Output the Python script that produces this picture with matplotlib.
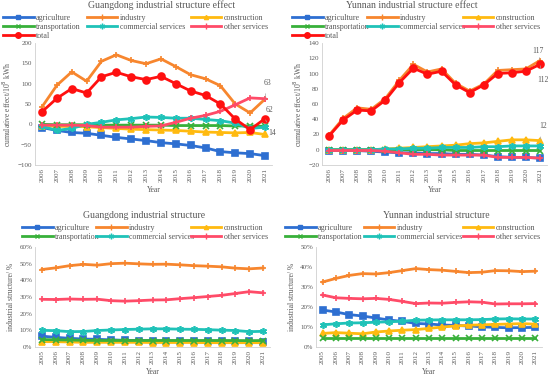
import matplotlib
matplotlib.use("Agg")
import matplotlib.pyplot as plt
from matplotlib.lines import Line2D

plt.rcParams['font.family'] = ['Liberation Serif', 'DejaVu Serif']
TXT = '#595959'

years_eff = list(range(2006, 2022))
years_str = list(range(2005, 2022))

# Guangdong industrial structure effect (10^8 kWh)
gd_agri = [-8, -15, -20, -22, -27, -32, -36, -40, -45, -48, -52, -58, -67, -70, -72, -77]
gd_ind = [43, 96, 129, 106, 155, 171, 157, 149, 161, 142, 122, 112, 95, 50, 28, 62]
gd_cons = [-3, -5, -5, -6, -8, -10, -12, -13, -14, -15, -17, -19, -20, -21, -20, -25]
gd_trans = [0, -1, -1, -1, -2, -2, -2, -2, -2, -3, -3, -3, -3, -4, -4, -5]
gd_comm = [-5, -15, -10, 0, 5, 11, 14, 18, 17, 15, 15, 12, 9, 3, -10, -7]
gd_other = [-2, -2, -2, -3, -7, -7, -7, -5, -4, 5, 15, 22, 32, 48, 65, 63]
gd_total = [31, 64, 88, 77, 117, 128, 117, 110, 118, 100, 82, 71, 50, 13, -13, 14]

# Yunnan industrial structure effect
yn_agri = [-1, -1, -1, -2, -3, -4, -4, -5, -5, -6, -6, -7, -9, -10, -10, -11]
yn_ind = [19, 41, 55, 53, 67, 91, 112, 102, 106, 87, 77, 86, 104, 105, 106, 117]
yn_cons = [0, 0, 0, 0, 1, 2, 3, 4, 5, 6, 8, 9, 11, 13, 13, 12]
yn_trans = [0, 0, 0, 0, 0, 0, 0, 0, 0, -1, -1, -1, -1, -1, -1, -1]
yn_comm = [0, 0, 0, 0, 1, 1, 2, 2, 3, 3, 3, 4, 4, 5, 5, 5]
yn_other = [-1, -1, -1, -1, -2, -4, -6, -6, -7, -7, -7, -7, -10, -10, -10, -11]
yn_total = [18, 39, 52, 51, 65, 88, 107, 99, 103, 85, 75, 85, 100, 101, 103, 112]

# Guangdong industrial structure (%)
gs_agri = [6.5, 5.8, 5.2, 4.8, 4.6, 4.3, 4.0, 3.9, 3.8, 3.7, 3.6, 3.6, 3.5, 3.5, 3.4, 3.4, 3.3]
gs_ind = [46.5, 47.5, 48.8, 49.6, 49.1, 50.0, 50.3, 49.9, 49.6, 49.7, 49.3, 48.8, 48.5, 48.1, 47.3, 46.9, 47.4]
gs_cons = [3.2, 3.2, 3.0, 2.8, 2.8, 2.8, 2.8, 2.8, 2.7, 2.7, 2.7, 2.7, 2.6, 2.6, 2.6, 2.6, 2.6]
gs_trans = [4.5, 4.3, 4.2, 4.0, 3.9, 3.9, 3.9, 3.9, 3.9, 3.9, 3.9, 3.9, 3.9, 3.9, 3.9, 3.8, 3.9]
gs_comm = [10.0, 9.8, 9.2, 9.3, 9.9, 10.2, 10.5, 10.7, 10.9, 10.9, 10.7, 10.6, 10.4, 10.1, 9.9, 9.2, 9.4]
gs_other = [28.6, 28.5, 28.8, 28.6, 28.7, 27.8, 27.5, 27.8, 28.2, 28.3, 29.0, 29.6, 30.3, 31.0, 32.1, 33.2, 32.5]

# Yunnan industrial structure (%)
ys_agri = [18.5, 17.5, 16.2, 15.5, 14.5, 13.5, 12.8, 11.8, 11.5, 11.0, 10.8, 10.5, 10.1, 9.8, 9.6, 9.7, 9.8]
ys_ind = [32.5, 34.3, 35.8, 36.7, 36.5, 37.2, 38.2, 39.2, 38.7, 38.4, 37.8, 37.2, 37.4, 38.2, 38.1, 37.7, 37.9]
ys_cons = [6.8, 7.2, 6.9, 6.6, 7.5, 8.0, 8.4, 8.7, 9.3, 10.0, 10.5, 10.9, 11.1, 11.3, 11.5, 11.7, 11.4]
ys_trans = [4.5, 4.5, 4.5, 4.5, 4.5, 4.5, 4.5, 4.5, 4.5, 4.5, 4.5, 4.5, 4.5, 4.5, 4.5, 4.5, 4.5]
ys_comm = [11.1, 11.6, 12.0, 12.1, 12.4, 12.6, 12.9, 13.4, 13.5, 13.6, 13.6, 13.6, 13.7, 14.0, 14.1, 14.0, 14.0]
ys_other = [26.0, 24.6, 24.3, 24.1, 24.3, 23.8, 22.8, 21.7, 22.0, 21.9, 22.3, 22.6, 22.4, 21.5, 21.6, 21.6, 21.7]

names = ['agriculture', 'industry', 'construction', 'transportation',
         'commercial services', 'other services', 'total']
colors = ['#2E6FD1', '#F7862E', '#FFBA10', '#38B03A', '#1FC2B8', '#FF4B68', '#FF1010']
markers = ['s', '+', '^', 'x', (6, 2, 0), '+', 'o']
msizes = [4, 5, 4, 4, 5, 5, 5]

fig = plt.figure(figsize=(5.5, 3.81), dpi=100)

W, H = 550.0, 381.0


def box(l, r, t, b):
    return [l / W, 1 - b / H, (r - l) / W, (b - t) / H]


def style(ax, ylabel):
    for s in ['top', 'right']:
        ax.spines[s].set_visible(False)
    for s in ['left', 'bottom']:
        ax.spines[s].set_color('#D0D0D0')
        ax.spines[s].set_linewidth(0.6)
    ax.tick_params(axis='both', colors='#BFBFBF', labelcolor=TXT, labelsize=5, length=0, pad=2)
    ax.tick_params(axis='x', rotation=90)
    ax.set_ylabel(ylabel, fontsize=5.5, color=TXT, labelpad=3)
    ax.set_xlabel('Year', fontsize=5.5, color=TXT, labelpad=3)


def draw(ax, years, series, n):
    for i in range(n):
        ax.plot(years, series[i], color=colors[i], lw=2.0, marker=markers[i],
                ms=msizes[i], mew=1.2, mec=colors[i], mfc=colors[i])
    ax.set_xlim(years[0] - 0.5, years[-1] + 0.5)
    ax.set_xticks(years)
    ax.set_xticklabels([str(y) for y in years])


def legend(ax, n, x0, x1, y_top, title, title_y, title_x):
    handles = [Line2D([], [], color=colors[i], lw=2.0, marker=markers[i], ms=msizes[i] - 1,
                      mew=1.0, mfc=colors[i], mec=colors[i]) for i in range(n)]
    if n == 7:
        order = [0, 3, 6, 1, 4, 2, 5]
    else:
        order = [0, 3, 1, 4, 2, 5]
    fig.legend([handles[i] for i in order], [names[i] for i in order],
               loc='upper left', bbox_to_anchor=(x0 / W, 1 - y_top / H, (x1 - x0) / W, 0.0),
               mode='expand', ncol=3, frameon=False, fontsize=5.8, handlelength=3.8,
               handletextpad=0.3, labelspacing=0.12, borderaxespad=0, borderpad=0,
               labelcolor=TXT, markerscale=1.0)
    fig.text(title_x / W, 1 - title_y / H, title, ha='center', va='center',
             fontsize=7, color=TXT)


ann = dict(fontsize=5.5, color=TXT, textcoords='offset points', ha='center', va='center',
           arrowprops=dict(arrowstyle='-', color='#A6A6A6', lw=0.5, shrinkA=3, shrinkB=1))

# Top-left: Guangdong effect
ax1 = fig.add_axes(box(34.6, 272.4, 43, 165))
draw(ax1, years_eff, [gd_agri, gd_ind, gd_cons, gd_trans, gd_comm, gd_other, gd_total], 7)
ax1.set_ylim(-100, 200)
ax1.set_yticks(range(-100, 201, 50))
style(ax1, 'cumulative effect/10$^8$ kWh')
legend(ax1, 7, 3, 268, 14, 'Guangdong industrial structure effect', 5, 162)
ax1.annotate('63', xy=(2021, gd_other[-1]), xytext=(1.5, 11.5), **ann)
ax1.annotate('62', xy=(2021, gd_ind[-1]), xytext=(3, -8), **ann)
ax1.annotate('14', xy=(2021, gd_total[-1]), xytext=(5, -10), **ann)

# Top-right: Yunnan effect
ax2 = fig.add_axes(box(322, 547, 43, 165))
draw(ax2, years_eff, [yn_agri, yn_ind, yn_cons, yn_trans, yn_comm, yn_other, yn_total], 7)
ax2.set_ylim(-20, 140)
ax2.set_yticks(range(-20, 141, 20))
style(ax2, 'cumulative effect/10$^8$ kWh')
legend(ax2, 7, 292, 540, 14, 'Yunnan industrial structure effect', 5, 412)
ax2.annotate('117', xy=(2021, yn_ind[-1]), xytext=(-1.5, 7), **ann)
ax2.annotate('112', xy=(2021, yn_total[-1]), xytext=(2, -11), **ann)
ax2.annotate('12', xy=(2021, yn_cons[-1]), xytext=(2, 10.5), **ann)

# Bottom-left: Guangdong structure
ax3 = fig.add_axes(box(35.1, 269.9, 247, 347))
draw(ax3, years_str, [gs_agri, gs_ind, gs_cons, gs_trans, gs_comm, gs_other], 6)
ax3.set_ylim(0, 60)
ax3.set_yticks(range(0, 61, 10))
ax3.set_yticklabels([f'{v}%' for v in range(0, 61, 10)])
style(ax3, 'industrial structure/ %')
legend(ax3, 6, 22, 268, 224, 'Guangdong industrial structure', 215, 144)

# Bottom-right: Yunnan structure
ax4 = fig.add_axes(box(316, 542, 247, 347))
draw(ax4, years_str, [ys_agri, ys_ind, ys_cons, ys_trans, ys_comm, ys_other], 6)
ax4.set_ylim(0, 50)
ax4.set_yticks(range(0, 51, 10))
ax4.set_yticklabels([f'{v}%' for v in range(0, 51, 10)])
style(ax4, 'industrial structure/ %')
legend(ax4, 6, 285, 540, 224, 'Yunnan industrial structure', 215, 436)

fig.savefig('out.png', dpi=100)
